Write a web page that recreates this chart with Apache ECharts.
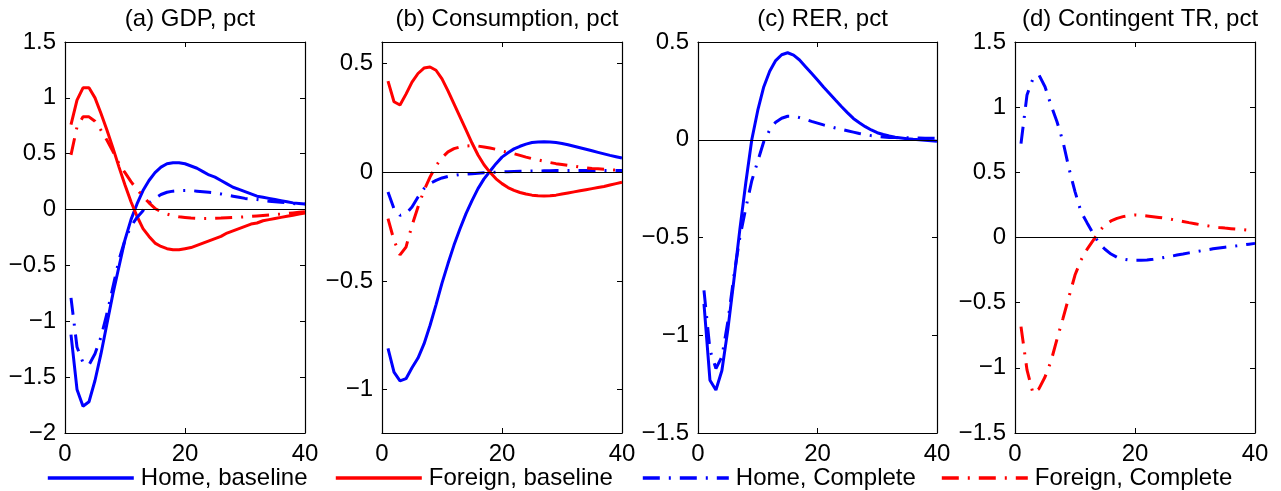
<!DOCTYPE html>
<html>
<head>
<meta charset="utf-8">
<script src="https://cdn.jsdelivr.net/npm/echarts@6.0.0/dist/echarts.min.js"></script>
<style>
    html, body { margin: 0; padding: 0; background: #fff; }
    #chart { width: 1281px; height: 491px; }
</style>
</head>
<body>
<div id="chart"></div>
<script>
// horizon, quarters after the shock
const periods = [1,2,3,4,5,6,7,8,9,10,11,12,13,14,15,16,17,18,19,20,
    21,22,23,24,25,26,27,28,29,30,31,32,33,34,35,36,37,38,39,40]

const titles = ['(a) GDP, pct', '(b) Consumption, pct', '(c) RER, pct', '(d) Contingent TR, pct']
const names = ['Home, baseline', 'Foreign, baseline', 'Home, Complete', 'Foreign, Complete']

// (a) GDP
const gdpHomeBase = [-1.12,-1.61,-1.76,-1.72,-1.53,-1.29,-1.02,-0.75,-0.51,-0.27,-0.09,0.05,0.17,0.26,0.33,0.38,0.41,0.42,0.42,0.41,
    0.39,0.37,0.34,0.31,0.29,0.26,0.23,0.20,0.18,0.16,0.14,0.12,0.11,0.10,0.09,0.08,0.07,0.06,0.055,0.05]
const gdpForeignBase = [0.76,0.98,1.09,1.09,1.00,0.86,0.71,0.55,0.38,0.22,0.07,-0.06,-0.17,-0.24,-0.30,-0.33,-0.35,-0.36,-0.36,-0.35,
    -0.34,-0.32,-0.30,-0.28,-0.26,-0.24,-0.21,-0.19,-0.17,-0.15,-0.13,-0.12,-0.10,-0.09,-0.08,-0.07,-0.06,-0.05,-0.04,-0.03]
const gdpHomeComp = [-0.79,-1.23,-1.37,-1.39,-1.29,-1.14,-0.93,-0.69,-0.45,-0.27,-0.15,-0.07,-0.01,0.06,0.10,0.135,0.155,0.165,0.17,0.17,
    0.17,0.165,0.16,0.155,0.15,0.14,0.13,0.12,0.11,0.10,0.095,0.09,0.08,0.075,0.07,0.065,0.06,0.055,0.05,0.05]
const gdpForeignComp = [0.49,0.74,0.83,0.83,0.79,0.71,0.62,0.52,0.41,0.33,0.25,0.18,0.12,0.06,0.01,-0.02,-0.04,-0.055,-0.065,-0.07,
    -0.075,-0.078,-0.08,-0.08,-0.078,-0.076,-0.073,-0.07,-0.068,-0.065,-0.061,-0.057,-0.053,-0.049,-0.045,-0.04,-0.035,-0.03,-0.025,-0.02]

// (b) Consumption
const conHomeBase = [-0.81,-0.92,-0.96,-0.95,-0.90,-0.855,-0.79,-0.705,-0.61,-0.51,-0.42,-0.335,-0.26,-0.19,-0.13,-0.075,-0.03,0.005,0.04,0.07,
    0.09,0.108,0.12,0.13,0.137,0.14,0.141,0.14,0.137,0.133,0.127,0.12,0.113,0.106,0.099,0.092,0.085,0.078,0.072,0.066]
const conForeignBase = [0.42,0.325,0.31,0.36,0.415,0.455,0.48,0.485,0.47,0.43,0.375,0.315,0.255,0.195,0.135,0.08,0.035,0.0,-0.03,-0.052,
    -0.07,-0.083,-0.093,-0.1,-0.105,-0.108,-0.109,-0.108,-0.105,-0.1,-0.095,-0.09,-0.085,-0.08,-0.075,-0.07,-0.065,-0.058,-0.052,-0.046]
const conHomeComp = [-0.09,-0.167,-0.198,-0.19,-0.16,-0.114,-0.075,-0.052,-0.037,-0.026,-0.019,-0.014,-0.01,-0.008,-0.006,-0.004,-0.002,0,0.001,0.002,
    0.003,0.004,0.005,0.005,0.006,0.006,0.007,0.007,0.008,0.008,0.008,0.009,0.009,0.009,0.009,0.009,0.009,0.009,0.009,0.009]
const conForeignComp = [-0.213,-0.313,-0.38,-0.344,-0.244,-0.16,-0.083,-0.022,0.03,0.067,0.094,0.109,0.117,0.121,0.123,0.121,0.117,0.112,0.106,0.098,
    0.092,0.086,0.078,0.07,0.063,0.057,0.051,0.045,0.04,0.036,0.032,0.028,0.024,0.021,0.018,0.016,0.014,0.012,0.01,0.009]

// (c) RER
const rerHomeBase = [-0.84,-1.23,-1.28,-1.18,-0.97,-0.72,-0.46,-0.22,0.0,0.15,0.27,0.35,0.405,0.435,0.445,0.433,0.408,0.374,0.34,0.306,
    0.27,0.237,0.203,0.17,0.139,0.109,0.087,0.067,0.05,0.036,0.027,0.019,0.013,0.009,0.005,0.002,0.0,-0.003,-0.005,-0.008]
const rerHomeComp = [-0.77,-1.075,-1.17,-1.11,-0.93,-0.70,-0.50,-0.35,-0.21,-0.11,-0.01,0.05,0.09,0.11,0.12,0.12,0.113,0.104,0.094,0.085,
    0.076,0.068,0.06,0.053,0.046,0.039,0.032,0.026,0.021,0.017,0.014,0.012,0.011,0.01,0.01,0.01,0.009,0.008,0.008,0.007]

// (d) Contingent transfers
const trHomeComp = [0.72,1.094,1.22,1.247,1.157,1.016,0.888,0.735,0.53,0.352,0.198,0.114,0.032,-0.045,-0.09,-0.127,-0.152,-0.165,-0.173,-0.175,
    -0.175,-0.173,-0.167,-0.16,-0.152,-0.144,-0.135,-0.127,-0.118,-0.11,-0.102,-0.095,-0.087,-0.08,-0.074,-0.068,-0.063,-0.057,-0.051,-0.045]
const trForeignComp = [-0.684,-1.016,-1.195,-1.16,-1.07,-0.95,-0.78,-0.62,-0.454,-0.288,-0.173,-0.091,-0.024,0.045,0.096,0.127,0.147,0.16,0.168,0.173,
    0.17,0.165,0.16,0.154,0.148,0.14,0.131,0.123,0.114,0.106,0.097,0.09,0.083,0.077,0.072,0.068,0.064,0.06,0.055,0.051]

const yRanges = [[-2, 1.5], [-1.2, 0.6], [-1.5, 0.5], [-1.5, 1.5]]
const yTicksB = [-1, -0.5, 0, 0.5]

const fontFamily = "'Liberation Sans', Arial, sans-serif"
const fontSize = 24
const blue = '#0000ff'
const red = '#ff0000'
const dashDot = [17, 9, 2, 9]
const lineWidth = 3

const gridLeft = [65, 382, 698, 1015]
const gridWidth = [240, 240, 239, 240]

function styleOf(name) {
    let color = name.indexOf('Home') === 0 ? blue : red
    let type = name.indexOf('baseline') > 0 ? 'solid' : dashDot
    return { color: color, width: lineWidth, type: type }
}

function pairs(values) {
    return values.map((v, i) => [periods[i], v])
}

function minusSign(v) {
    return String(v).replace('-', '\u2212')
}

function createAxes(i) {
    let tickStyle = { inside: true, length: 5, lineStyle: { color: '#000', width: 1 } }
    let lineStyle = { show: true, onZero: false, lineStyle: { color: '#000', width: 1.2 } }
    let label = { color: '#000', fontSize: fontSize, fontFamily: fontFamily }
    let x = {
        type: 'value', gridIndex: i, min: 0, max: 40, interval: 20,
        axisLine: lineStyle, axisTick: tickStyle, splitLine: { show: false },
        axisLabel: Object.assign({ margin: 9 }, label)
    }
    let xTop = Object.assign({}, x, { position: 'top', axisLabel: { show: false } })
    let y = {
        type: 'value', gridIndex: i, min: yRanges[i][0], max: yRanges[i][1],
        axisLine: lineStyle, axisTick: Object.assign({}, tickStyle), splitLine: { show: false },
        axisLabel: Object.assign({ margin: 9, formatter: minusSign }, label)
    }
    if (i === 1) {
        y.axisLabel.customValues = yTicksB
        y.axisTick.customValues = yTicksB
    } else {
        y.interval = 0.5
    }
    let yRight = Object.assign({}, y, { position: 'right', axisLabel: { show: false } })
    return { x: [x, xTop], y: [y, yRight] }
}

function createSeries(i, name, values, withZero) {
    let s = {
        name: name, type: 'line', xAxisIndex: 2 * i, yAxisIndex: 2 * i,
        data: pairs(values), symbol: 'none', showSymbol: false,
        lineStyle: styleOf(name), itemStyle: { color: styleOf(name).color },
        silent: true, z: 3
    }
    if (withZero) {
        s.markLine = {
            silent: true, symbol: 'none', label: { show: false }, animation: false,
            lineStyle: { color: '#000', width: 1, type: 'solid' },
            data: [{ yAxis: 0 }]
        }
    }
    return s
}

function createOption() {
    let panels = [
        [[names[0], gdpHomeBase], [names[1], gdpForeignBase], [names[2], gdpHomeComp], [names[3], gdpForeignComp]],
        [[names[0], conHomeBase], [names[1], conForeignBase], [names[2], conHomeComp], [names[3], conForeignComp]],
        [[names[0], rerHomeBase], [names[2], rerHomeComp]],
        [[names[2], trHomeComp], [names[3], trForeignComp]]
    ]
    let grid = [], xAxis = [], yAxis = [], series = [], title = []
    for (let i = 0; i < 4; i++) {
        grid.push({ left: gridLeft[i], width: gridWidth[i], top: 42, bottom: 58 })
        let axes = createAxes(i)
        xAxis.push(...axes.x)
        yAxis.push(...axes.y)
        panels[i].forEach((p, k) => {
            series.push(createSeries(i, p[0], p[1], k === panels[i].length - 1))
        })
        title.push({
            text: titles[i], left: gridLeft[i] + gridWidth[i] / 2, top: 2, textAlign: 'center',
            textStyle: { fontSize: fontSize, fontWeight: 'normal', color: '#000', fontFamily: fontFamily }
        })
    }
    let legendLeft = [46, 334, 641, 940]
    let legend = names.map((n, i) => ({
        data: [n], left: legendLeft[i], top: 466, itemWidth: 86, itemHeight: 14, itemGap: 10,
        selectedMode: false, padding: 0,
        itemStyle: { opacity: 0 },
        lineStyle: { width: lineWidth + 0.6 },
        textStyle: { fontSize: fontSize, color: '#000', fontFamily: fontFamily, padding: [0, 0, 0, 2] }
    }))
    return {
        animation: false, backgroundColor: '#fff',
        title: title, legend: legend, grid: grid, xAxis: xAxis, yAxis: yAxis, series: series
    }
}

let chart = echarts.init(document.getElementById('chart'))
chart.setOption(createOption())
</script>
</body>
</html>
